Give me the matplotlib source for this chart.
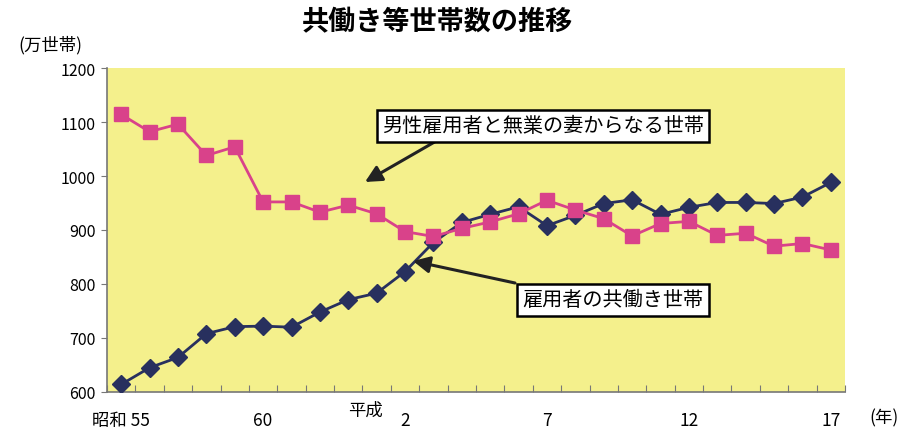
import numpy as np
import matplotlib
matplotlib.use("Agg")
import matplotlib.pyplot as plt

plt.rcParams['font.family'] = ['Noto Sans CJK JP', 'DejaVu Sans']

# --- datos (万世帯) ---
years = list(range(1980, 2006))
tick_idx = [0, 5, 10, 15, 20, 25]
tick_labels = ["昭和 55", "60", "2", "7", "12", "17"]
kyobataraki = [614, 645, 664, 708, 721, 722, 720, 748, 771, 783, 823, 877, 914,
               929, 943, 908, 927, 949, 956, 929, 942, 951, 951, 949, 961, 988]
sengyo = [1114, 1082, 1096, 1038, 1054, 952, 952, 933, 946, 930, 897, 888, 903,
          915, 930, 955, 937, 921, 889, 912, 916, 890, 894, 870, 875, 863]

PINK = "#D9428A"
NAVY = "#28305E"
BG = "#F4F08C"

fig = plt.figure(figsize=(9, 4.31), dpi=100)
ax = fig.add_axes([107/900, 38/431, 738/900, 324/431])
ax.set_facecolor(BG)

x = np.arange(len(years))
ax.plot(x, kyobataraki, color=NAVY, lw=2, marker="D", ms=9, zorder=3)
ax.plot(x, sengyo, color=PINK, lw=2, marker="s", ms=10, zorder=4)

ax.set_xlim(-0.5, len(years) - 0.5)
ax.set_ylim(600, 1200)
ax.set_yticks(range(600, 1201, 100))
ax.tick_params(axis="y", length=4, labelsize=11.5, color="#777777", pad=4)

# ticks x en los limites de categoria
ax.set_xticks(np.arange(-0.5, len(years), 1.0), minor=False)
ax.set_xticklabels([])
ax.tick_params(axis="x", direction="in", length=5, color="#777777")
for i, lab in zip(tick_idx, tick_labels):
    ax.text(i, -0.085, lab, transform=ax.get_xaxis_transform(),
            ha="center", va="center", fontsize=12.5)
ax.text(8.6, -0.055, "平成", transform=ax.get_xaxis_transform(),
        ha="center", va="center", fontsize=12.5)
fig.text(884/900, 1 - 418/431, "(年)", ha="center", va="center", fontsize=12.5)

for side in ["left", "bottom"]:
    ax.spines[side].set_color("#777777")
    ax.spines[side].set_linewidth(1.2)
for side in ["top", "right"]:
    ax.spines[side].set_visible(False)

fig.text(437/900, 1 - 22/431, "共働き等世帯数の推移", ha="center", va="center",
         fontsize=19.5, fontweight="bold")
fig.text(50/900, 1 - 45/431, "(万世帯)", ha="center", va="center", fontsize=12.5)

box = dict(boxstyle="square,pad=0.25", fc="white", ec="black", lw=1.8)
arrow = dict(arrowstyle="-|>,head_length=1.0,head_width=0.5", color="#222222", lw=2.2,
             shrinkA=0, shrinkB=0)

ax.annotate("", xy=(365, 431 - 183), xycoords="figure pixels",
            xytext=(438, 431 - 141), textcoords="figure pixels", arrowprops=arrow)
ax.annotate("", xy=(413, 431 - 262), xycoords="figure pixels",
            xytext=(515, 431 - 284), textcoords="figure pixels", arrowprops=arrow)
fig.text(543/900, 1 - 127/431, "男性雇用者と無業の妻からなる世帯", ha="center",
         va="center", fontsize=14.5, bbox=box, zorder=6)
fig.text(613/900, 1 - 301/431, "雇用者の共働き世帯", ha="center", va="center",
         fontsize=14.5, bbox=box, zorder=6)

fig.savefig("out.png", dpi=100)
